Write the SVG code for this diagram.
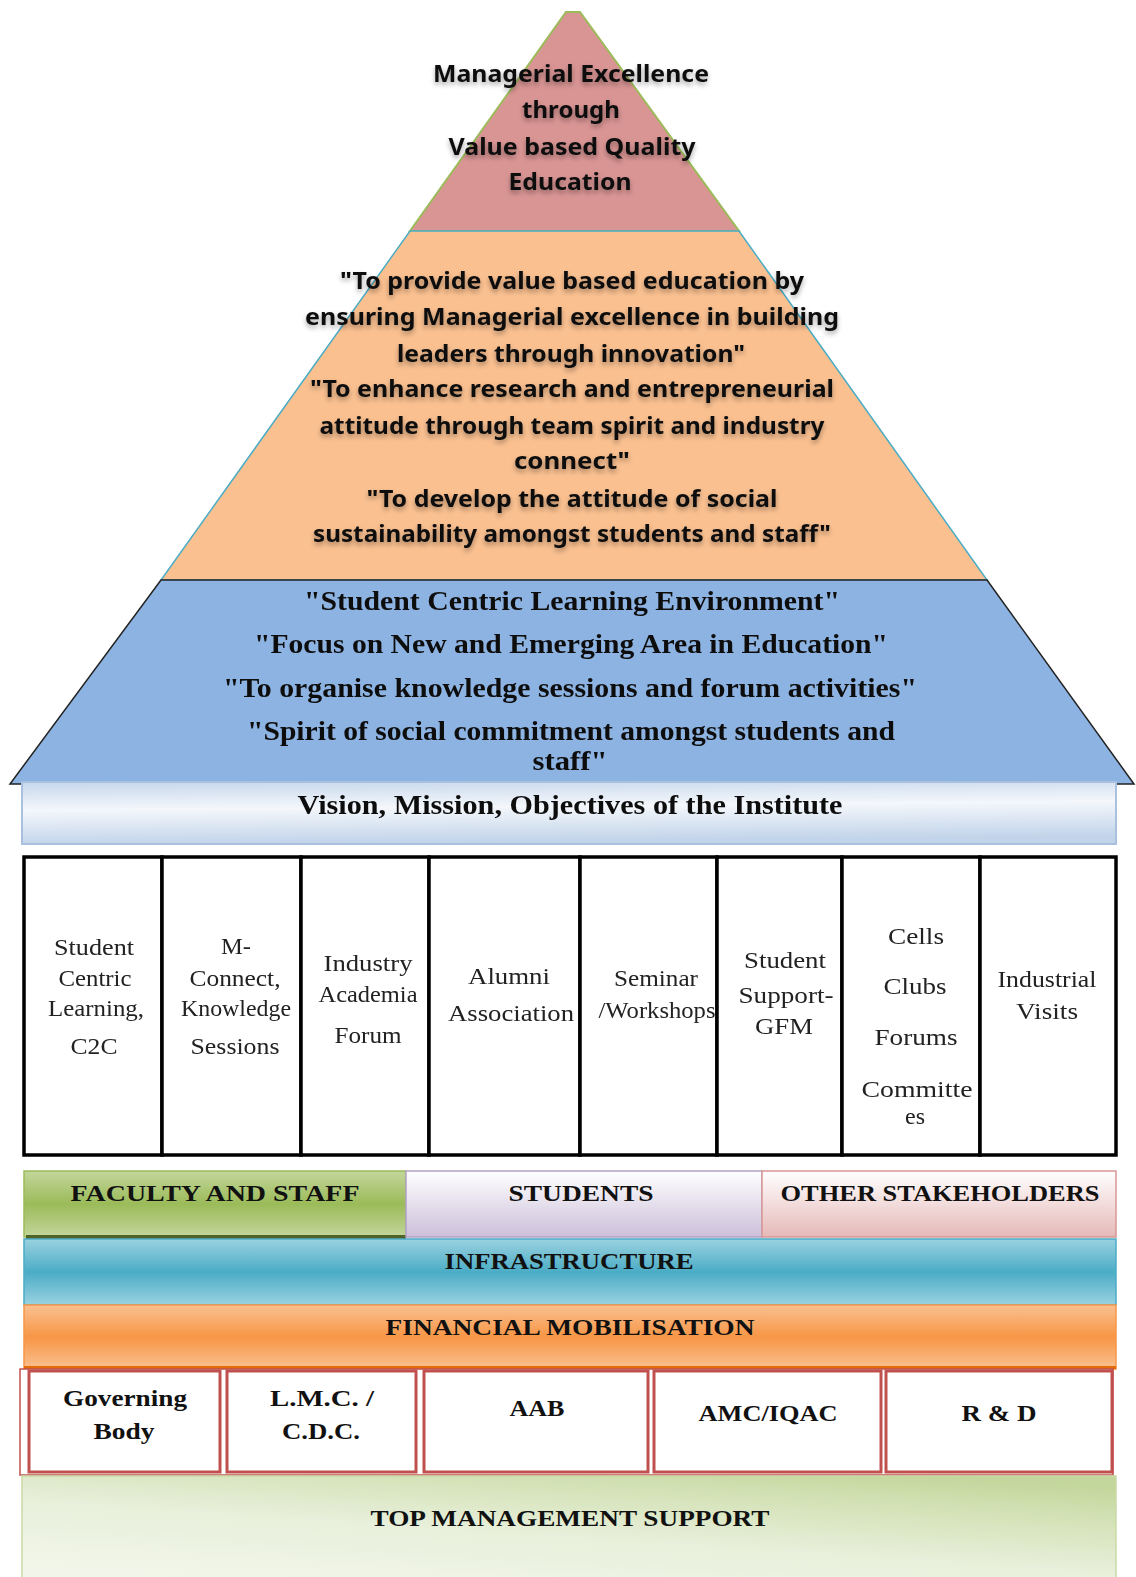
<svg xmlns="http://www.w3.org/2000/svg" width="1136" height="1577" viewBox="0 0 1136 1577">
  <defs>
    <filter id="txtShadow" x="-10%" y="-30%" width="120%" height="180%">
      <feDropShadow dx="0" dy="3" stdDeviation="2.5" flood-color="#000" flood-opacity="0.35"/>
    </filter>
    <filter id="soft" x="-5%" y="-20%" width="110%" height="140%">
      <feGaussianBlur stdDeviation="0.4"/>
    </filter>
    <linearGradient id="gVision" x1="0" y1="0" x2="0.15" y2="1">
      <stop offset="0" stop-color="#C6D7EC"/>
      <stop offset="0.45" stop-color="#F4F7FB"/>
      <stop offset="1" stop-color="#C2D4EA"/>
    </linearGradient>
    <linearGradient id="gGreen" x1="0" y1="0" x2="0" y2="1">
      <stop offset="0" stop-color="#C3D69B"/>
      <stop offset="0.5" stop-color="#9BBB59"/>
      <stop offset="1" stop-color="#C3D69B"/>
    </linearGradient>
    <linearGradient id="gLavender" x1="0" y1="0" x2="0" y2="1">
      <stop offset="0" stop-color="#FFFFFF"/>
      <stop offset="1" stop-color="#CCC0DA"/>
    </linearGradient>
    <linearGradient id="gPink" x1="0" y1="0" x2="0" y2="1">
      <stop offset="0" stop-color="#FFFFFF"/>
      <stop offset="1" stop-color="#E6B9B8"/>
    </linearGradient>
    <linearGradient id="gTeal" x1="0" y1="0" x2="0" y2="1">
      <stop offset="0" stop-color="#9AD2E0"/>
      <stop offset="0.5" stop-color="#4BACC6"/>
      <stop offset="1" stop-color="#9AD2E0"/>
    </linearGradient>
    <linearGradient id="gOrange" x1="0" y1="0" x2="0" y2="1">
      <stop offset="0" stop-color="#FAC090"/>
      <stop offset="0.5" stop-color="#F79646"/>
      <stop offset="1" stop-color="#FAC090"/>
    </linearGradient>
    <linearGradient id="gMgmt" x1="0.15" y1="1" x2="0.85" y2="0">
      <stop offset="0" stop-color="#F2F6EA"/>
      <stop offset="0.45" stop-color="#E8EFDA"/>
      <stop offset="0.8" stop-color="#D2E1B4"/>
      <stop offset="1" stop-color="#C3D69B"/>
    </linearGradient>
  </defs>
  <style>
    .sans { font-family: "Noto Sans", "Open Sans", "Liberation Sans", sans-serif; font-weight: bold; font-size: 23px; fill: #111; }
    .serifB { font-family: "Liberation Serif", "DejaVu Serif", serif; font-weight: bold; fill: #111; }
    .serif { font-family: "Liberation Serif", "DejaVu Serif", serif; font-size: 24px; fill: #222; }
    text { text-anchor: middle; dominant-baseline: central; }
    .col { fill: #FFFFFF; stroke: #000; stroke-width: 3.5; }
    .rbox { fill: #FFFFFF; stroke: #C0504D; stroke-width: 3; }
  </style>

  <rect x="0" y="0" width="1136" height="1577" fill="#FFFFFF"/>

  <!-- Pyramid: apex, mission and objectives tiers -->
  <g id="apex">
    <polygon points="566,12 580,12 739,231 410,231" fill="#D99594" stroke="#9BBB59" stroke-width="2"/>
    <g class="sans" filter="url(#txtShadow)">
      <text x="571" y="73" textLength="276" lengthAdjust="spacingAndGlyphs">Managerial Excellence</text>
      <text x="571" y="109" textLength="98" lengthAdjust="spacingAndGlyphs">through</text>
      <text x="572" y="146" textLength="247" lengthAdjust="spacingAndGlyphs">Value based Quality</text>
      <text x="570" y="181" textLength="123" lengthAdjust="spacingAndGlyphs">Education</text>
    </g>
  </g>

  <g id="mission">
    <polygon points="410,231 739,231 987,580 161,580" fill="#FAC090" stroke="#4BACC6" stroke-width="1.5"/>
    <g class="sans" filter="url(#txtShadow)">
      <text x="572" y="280" textLength="464" lengthAdjust="spacingAndGlyphs">"To provide value based education by</text>
      <text x="572" y="316" textLength="534" lengthAdjust="spacingAndGlyphs">ensuring Managerial excellence in building</text>
      <text x="571" y="353" textLength="348" lengthAdjust="spacingAndGlyphs">leaders through innovation"</text>
      <text x="572" y="388" textLength="524" lengthAdjust="spacingAndGlyphs">"To enhance research and entrepreneurial</text>
      <text x="572" y="425" textLength="505" lengthAdjust="spacingAndGlyphs">attitude through team spirit and industry</text>
      <text x="572" y="460" textLength="116" lengthAdjust="spacingAndGlyphs">connect"</text>
      <text x="572" y="498" textLength="411" lengthAdjust="spacingAndGlyphs">"To develop the attitude of social</text>
      <text x="572" y="533" textLength="518" lengthAdjust="spacingAndGlyphs">sustainability amongst students and staff"</text>
    </g>
  </g>

  <g id="objectives">
    <polygon points="161,580 987,580 1134,784 10,784" fill="#8DB3E2" stroke="#222" stroke-width="1.5"/>
    <g class="serifB" font-size="27" filter="url(#soft)">
      <text x="572" y="601" textLength="536" lengthAdjust="spacingAndGlyphs">"Student Centric Learning Environment"</text>
      <text x="571" y="644" textLength="634" lengthAdjust="spacingAndGlyphs">"Focus on New and Emerging Area in Education"</text>
      <text x="570" y="688" textLength="694" lengthAdjust="spacingAndGlyphs">"To organise knowledge sessions and forum activities"</text>
      <text x="571" y="731" textLength="648" lengthAdjust="spacingAndGlyphs">"Spirit of social commitment amongst students and</text>
      <text x="570" y="761" textLength="75" lengthAdjust="spacingAndGlyphs">staff"</text>
    </g>
  </g>

  <g id="vision">
    <rect x="22" y="782" width="1094" height="62" fill="url(#gVision)" stroke="#A9C1DF" stroke-width="2"/>
    <text class="serifB" font-size="27" x="570" y="805" textLength="545" lengthAdjust="spacingAndGlyphs" filter="url(#soft)">Vision, Mission, Objectives of the Institute</text>
  </g>

  <!-- Activity pillars -->
  <g class="serif" filter="url(#soft)">
    <g id="pillar-c2c">
      <rect class="col" x="24" y="857" width="138" height="298"/>
      <text x="94" y="947" textLength="80" lengthAdjust="spacingAndGlyphs">Student</text>
      <text x="95" y="978" textLength="73" lengthAdjust="spacingAndGlyphs">Centric</text>
      <text x="96" y="1008" textLength="96" lengthAdjust="spacingAndGlyphs">Learning,</text>
      <text x="94" y="1046" textLength="47" lengthAdjust="spacingAndGlyphs">C2C</text>
    </g>
    <g id="pillar-mconnect">
      <rect class="col" x="162" y="857" width="139" height="298"/>
      <text x="236" y="946" textLength="30" lengthAdjust="spacingAndGlyphs">M-</text>
      <text x="235" y="978" textLength="91" lengthAdjust="spacingAndGlyphs">Connect,</text>
      <text x="236" y="1008" textLength="110" lengthAdjust="spacingAndGlyphs">Knowledge</text>
      <text x="235" y="1046" textLength="89" lengthAdjust="spacingAndGlyphs">Sessions</text>
    </g>
    <g id="pillar-industry-academia">
      <rect class="col" x="301" y="857" width="128" height="298"/>
      <text x="368" y="963" textLength="89" lengthAdjust="spacingAndGlyphs">Industry</text>
      <text x="368" y="994" textLength="99" lengthAdjust="spacingAndGlyphs">Academia</text>
      <text x="368" y="1035" textLength="67" lengthAdjust="spacingAndGlyphs">Forum</text>
    </g>
    <g id="pillar-alumni">
      <rect class="col" x="429" y="857" width="151" height="298"/>
      <text x="509" y="976" textLength="82" lengthAdjust="spacingAndGlyphs">Alumni</text>
      <text x="511" y="1013" textLength="126" lengthAdjust="spacingAndGlyphs">Association</text>
    </g>
    <g id="pillar-seminar">
      <rect class="col" x="580" y="857" width="137" height="298"/>
      <text x="656" y="978" textLength="84" lengthAdjust="spacingAndGlyphs">Seminar</text>
      <text x="657" y="1010" textLength="117" lengthAdjust="spacingAndGlyphs">/Workshops</text>
    </g>
    <g id="pillar-student-support">
      <rect class="col" x="717" y="857" width="125" height="298"/>
      <text x="785" y="960" textLength="82" lengthAdjust="spacingAndGlyphs">Student</text>
      <text x="786" y="995" textLength="95" lengthAdjust="spacingAndGlyphs">Support-</text>
      <text x="784" y="1026" textLength="58" lengthAdjust="spacingAndGlyphs">GFM</text>
    </g>
    <g id="pillar-cells">
      <rect class="col" x="842" y="857" width="138" height="298"/>
      <text x="916" y="936" textLength="56" lengthAdjust="spacingAndGlyphs">Cells</text>
      <text x="915" y="986" textLength="63" lengthAdjust="spacingAndGlyphs">Clubs</text>
      <text x="916" y="1037" textLength="83" lengthAdjust="spacingAndGlyphs">Forums</text>
      <text x="917" y="1089" textLength="111" lengthAdjust="spacingAndGlyphs">Committe</text>
      <text x="915" y="1116" textLength="20" lengthAdjust="spacingAndGlyphs">es</text>
    </g>
    <g id="pillar-visits">
      <rect class="col" x="980" y="857" width="136" height="298"/>
      <text x="1047" y="979" textLength="99" lengthAdjust="spacingAndGlyphs">Industrial</text>
      <text x="1047" y="1011" textLength="62" lengthAdjust="spacingAndGlyphs">Visits</text>
    </g>
  </g>

  <!-- Stakeholder row -->
  <g class="serifB" font-size="24">
    <g id="faculty-staff">
      <rect x="24" y="1171" width="382" height="66" fill="url(#gGreen)" stroke="#9BBB59" stroke-width="1.5"/>
      <rect x="26" y="1235" width="380" height="4" fill="#4F6228"/>
      <text x="215" y="1193" textLength="289" lengthAdjust="spacingAndGlyphs">FACULTY AND STAFF</text>
    </g>
    <g id="students">
      <rect x="406" y="1171" width="356" height="66" fill="url(#gLavender)" stroke="#B2A1C7" stroke-width="1.5"/>
      <text x="581" y="1193" textLength="145" lengthAdjust="spacingAndGlyphs">STUDENTS</text>
    </g>
    <g id="other-stakeholders">
      <rect x="762" y="1171" width="354" height="66" fill="url(#gPink)" stroke="#D99694" stroke-width="1.5"/>
      <text x="940" y="1193" textLength="319" lengthAdjust="spacingAndGlyphs">OTHER STAKEHOLDERS</text>
    </g>

    <g id="infrastructure">
      <rect x="24" y="1239" width="1092" height="66" fill="url(#gTeal)" stroke="#4BACC6" stroke-width="1.5"/>
      <text x="569" y="1261" textLength="249" lengthAdjust="spacingAndGlyphs">INFRASTRUCTURE</text>
    </g>
    <g id="financial">
      <rect x="24" y="1305" width="1092" height="64" fill="url(#gOrange)" stroke="#F79646" stroke-width="1.5"/>
      <rect x="24" y="1366" width="1092" height="3" fill="#E36C09"/>
      <text x="570" y="1327" textLength="369" lengthAdjust="spacingAndGlyphs">FINANCIAL MOBILISATION</text>
    </g>
  </g>

  <!-- Governance bodies -->
  <g class="serifB" font-size="24">
    <rect x="20" y="1369" width="1093" height="106" fill="#FFFFFF" stroke="#C0504D" stroke-width="1.5"/>
    <g id="governing-body">
      <rect class="rbox" x="29" y="1371" width="191" height="101"/>
      <text x="125" y="1398" textLength="124" lengthAdjust="spacingAndGlyphs">Governing</text>
      <text x="124" y="1431" textLength="61" lengthAdjust="spacingAndGlyphs">Body</text>
    </g>
    <g id="lmc-cdc">
      <rect class="rbox" x="227" y="1371" width="189" height="101"/>
      <text x="322" y="1398" textLength="104" lengthAdjust="spacingAndGlyphs">L.M.C. /</text>
      <text x="321" y="1431" textLength="78" lengthAdjust="spacingAndGlyphs">C.D.C.</text>
    </g>
    <g id="aab">
      <rect class="rbox" x="424" y="1371" width="224" height="101"/>
      <text x="537" y="1408" textLength="55" lengthAdjust="spacingAndGlyphs">AAB</text>
    </g>
    <g id="amc-iqac">
      <rect class="rbox" x="654" y="1371" width="227" height="101"/>
      <text x="768" y="1413" textLength="139" lengthAdjust="spacingAndGlyphs">AMC/IQAC</text>
    </g>
    <g id="r-and-d">
      <rect class="rbox" x="886" y="1371" width="226" height="101"/>
      <text x="999" y="1413" textLength="75" lengthAdjust="spacingAndGlyphs">R &amp; D</text>
    </g>

    <g id="top-management">
      <rect x="22" y="1476" width="1094" height="104" fill="url(#gMgmt)" stroke="#C9DAA6" stroke-width="1.5"/>
      <text x="570" y="1518" textLength="399" lengthAdjust="spacingAndGlyphs">TOP MANAGEMENT SUPPORT</text>
    </g>
  </g>

  <!-- connectors: none; tiers are stacked directly -->
  <g id="connectors"/>
</svg>
